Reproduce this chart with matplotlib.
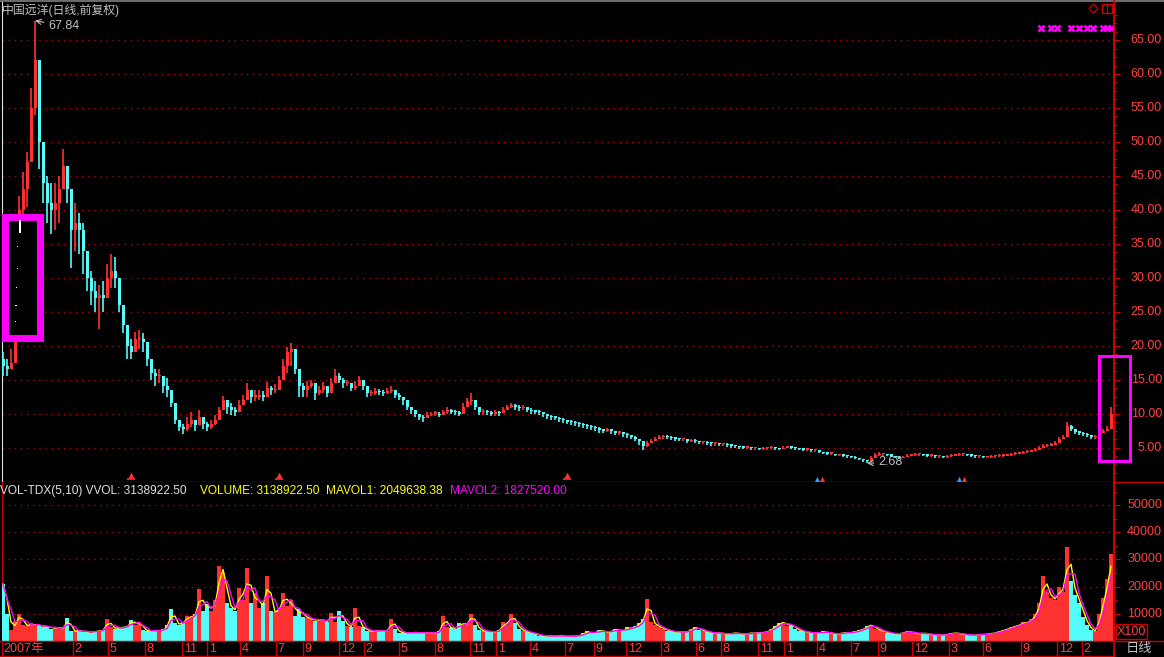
import numpy as np
import pandas as pd
import matplotlib
matplotlib.use('Agg')
import matplotlib.pyplot as plt
from matplotlib.patches import Rectangle, Polygon
from matplotlib.lines import Line2D

plt.rcParams['font.family'] = ['Liberation Sans', 'Noto Sans CJK SC']
plt.rcParams['lines.scale_dashes'] = False

# ---- data (one bar ~ 4 trading days) ----
first_open = 18.0
close = [17.0, 16.5, 17.5, 21.0, 40.0, 43.0, 47.0, 55.0, 62.0, 50.0,
         44.0, 41.0, 40.0, 41.0, 43.0, 46.5, 43.0, 37.0, 38.0, 37.0,
         34.0, 30.0, 28.0, 27.0, 27.5, 27.0, 30.0, 31.0, 30.0, 26.0,
         23.0, 20.0, 19.0, 21.0, 21.0, 20.5, 18.0, 16.0, 15.5, 15.5,
         14.0, 13.5, 11.5, 9.0, 8.0, 7.8, 8.5, 9.0, 8.3, 9.5,
         8.5, 8.0, 8.5, 9.0, 10.5, 12.0, 11.0, 10.5, 10.3, 11.3,
         12.0, 13.5, 12.5, 12.5, 12.8, 12.5, 13.8, 13.5, 13.5, 15.0,
         17.0, 19.0, 19.5, 16.5, 14.0, 13.5, 14.0, 14.5, 13.0, 13.5,
         14.0, 13.0, 14.5, 15.5, 15.0, 14.5, 14.5, 13.8, 14.0, 15.0,
         14.0, 13.0, 13.0, 13.3, 13.2, 13.0, 13.3, 13.5, 12.8, 12.5,
         12.0, 11.0, 10.5, 10.0, 9.5, 9.3, 9.8, 10.0, 10.0, 9.8,
         10.2, 10.5, 10.3, 10.2, 10.0, 11.0, 11.8, 12.0, 11.0, 10.2,
         10.3, 10.2, 10.0, 10.2, 10.1, 10.6, 10.9, 11.2, 11.0, 10.8,
         10.9, 10.6, 10.4, 10.3, 10.2, 9.9, 9.6, 9.5, 9.4, 9.2,
         9.0, 8.8, 8.7, 8.6, 8.4, 8.3, 8.1, 8.0, 7.9, 7.6,
         7.5, 7.7, 7.4, 7.2, 7.3, 7.0, 6.8, 6.6, 6.3, 5.9,
         5.2, 5.6, 6.0, 6.3, 6.5, 6.6, 6.5, 6.4, 6.3, 6.2,
         6.2, 6.0, 6.1, 5.9, 5.8, 5.8, 5.7, 5.6, 5.6, 5.5,
         5.5, 5.4, 5.3, 5.2, 5.1, 5.0, 5.0, 4.9, 4.9, 4.8,
         4.9, 4.9, 5.0, 4.9, 4.8, 5.0, 5.1, 5.0, 4.9, 4.8,
         4.7, 4.7, 4.6, 4.6, 4.4, 4.2, 4.1, 4.1, 3.9, 3.9,
         3.8, 3.7, 3.6, 3.5, 3.3, 3.1, 3.0, 3.5, 3.9, 4.0,
         4.0, 3.9, 3.8, 3.6, 3.5, 3.6, 3.8, 3.9, 4.0, 4.0,
         3.9, 3.8, 3.8, 3.7, 3.7, 3.6, 3.7, 3.8, 3.9, 4.0,
         4.0, 3.9, 3.8, 3.7, 3.7, 3.6, 3.6, 3.7, 3.7, 3.8,
         3.8, 3.9, 4.0, 4.1, 4.2, 4.3, 4.4, 4.5, 4.7, 5.0,
         5.2, 5.3, 5.4, 5.6, 6.2, 6.6, 8.2, 7.7, 7.3, 7.2,
         7.0, 6.8, 6.5, 6.6, 7.2, 7.5, 7.8, 10.0]
high = [19.0, 18.0, 19.5, 22.5, 42.0, 45.6, 48.5, 58.0, 67.84, 60.0,
        49.0, 45.0, 44.0, 44.0, 45.0, 49.0, 46.0, 42.0, 41.0, 39.5,
        38.0, 33.0, 31.0, 29.5, 29.0, 29.5, 32.0, 33.5, 33.0, 28.5,
        25.0, 22.5, 21.0, 22.0, 22.3, 21.8, 19.5, 17.5, 16.5, 16.5,
        15.5, 15.3, 13.0, 10.8, 9.0, 8.5, 9.5, 10.2, 9.0, 10.6,
        9.5, 8.8, 9.0, 9.8, 11.0, 12.6, 12.0, 11.5, 11.0, 12.0,
        12.8, 14.5, 13.5, 13.5, 13.4, 13.3, 14.6, 14.0, 14.3, 15.5,
        18.0, 19.8, 20.4, 19.5, 15.5, 14.5, 14.8, 15.0, 14.0, 14.0,
        14.6, 14.0, 15.2, 16.5, 16.0, 15.3, 15.0, 14.4, 14.8, 15.6,
        15.0, 13.6, 13.5, 13.7, 13.6, 13.5, 13.7, 14.0, 13.5, 13.0,
        12.5, 11.8, 11.0, 10.5, 10.0, 9.8, 10.2, 10.3, 10.4, 10.2,
        10.6, 10.9, 10.7, 10.6, 10.4, 11.5, 12.3, 13.0, 12.0, 10.8,
        10.7, 10.6, 10.4, 10.5, 10.4, 11.0, 11.3, 11.6, 11.4, 11.2,
        11.2, 11.0, 10.8, 10.6, 10.5, 10.3, 10.0, 9.8, 9.7, 9.5,
        9.3, 9.1, 9.0, 8.9, 8.7, 8.6, 8.4, 8.3, 8.2, 8.0,
        7.8, 7.9, 7.7, 7.5, 7.5, 7.3, 7.1, 6.9, 6.7, 6.3,
        5.9, 5.9, 6.3, 6.6, 6.8, 6.9, 6.8, 6.7, 6.6, 6.4,
        6.4, 6.3, 6.3, 6.2, 6.0, 6.0, 5.9, 5.8, 5.8, 5.7,
        5.7, 5.6, 5.5, 5.4, 5.3, 5.2, 5.2, 5.1, 5.1, 5.0,
        5.1, 5.1, 5.2, 5.1, 5.0, 5.2, 5.3, 5.2, 5.1, 5.0,
        4.9, 4.9, 4.8, 4.8, 4.6, 4.4, 4.3, 4.3, 4.1, 4.1,
        4.0, 3.9, 3.8, 3.7, 3.5, 3.3, 3.2, 3.8, 4.2, 4.3,
        4.2, 4.1, 4.0, 3.8, 3.7, 3.8, 4.0, 4.1, 4.2, 4.2,
        4.1, 4.0, 4.0, 3.9, 3.9, 3.8, 3.9, 4.0, 4.1, 4.2,
        4.2, 4.1, 4.0, 3.9, 3.9, 3.8, 3.8, 3.9, 3.9, 4.0,
        4.0, 4.1, 4.2, 4.3, 4.4, 4.5, 4.6, 4.7, 4.9, 5.3,
        5.5, 5.5, 5.6, 5.9, 6.5, 6.9, 8.7, 8.3, 7.7, 7.5,
        7.3, 7.1, 6.8, 6.9, 7.6, 7.8, 8.2, 11.0]
low = [15.5, 15.5, 16.5, 19.0, 36.5, 39.0, 40.4, 49.0, 54.0, 46.0,
       41.0, 38.0, 36.5, 37.0, 38.0, 43.0, 41.0, 31.5, 34.0, 33.5,
       30.5, 28.0, 26.0, 25.0, 22.5, 25.0, 27.5, 28.5, 28.5, 25.0,
       21.8, 18.0, 18.0, 19.5, 19.5, 19.0, 17.0, 15.0, 14.0, 14.5,
       13.0, 12.5, 11.0, 8.5, 7.5, 7.0, 7.5, 8.0, 7.5, 8.5,
       7.8, 7.5, 7.8, 8.3, 9.5, 10.8, 10.0, 9.8, 9.6, 10.2,
       11.2, 12.0, 11.5, 11.8, 12.0, 11.8, 13.0, 12.8, 13.0, 14.0,
       15.5, 16.0, 17.0, 15.8, 12.5, 12.5, 12.5, 13.8, 12.0, 12.8,
       13.0, 12.5, 13.5, 14.6, 14.5, 13.8, 14.0, 13.3, 13.5, 14.2,
       13.4, 12.5, 12.6, 12.8, 12.8, 12.6, 12.9, 13.0, 12.3, 12.0,
       11.2, 10.5, 10.0, 9.5, 9.0, 8.7, 9.4, 9.6, 9.6, 9.5,
       9.8, 10.0, 9.9, 9.8, 9.7, 10.5, 11.0, 11.3, 10.5, 9.8,
       9.8, 9.8, 9.6, 9.7, 9.7, 10.2, 10.5, 10.8, 10.6, 10.4,
       10.5, 10.2, 10.0, 9.9, 9.8, 9.5, 9.2, 9.1, 9.0, 8.8,
       8.6, 8.4, 8.3, 8.2, 8.0, 7.9, 7.7, 7.6, 7.5, 7.2,
       7.1, 7.3, 7.0, 6.8, 6.9, 6.6, 6.4, 6.2, 5.9, 5.4,
       4.7, 5.1, 5.6, 6.0, 6.2, 6.3, 6.2, 6.1, 6.0, 5.9,
       5.9, 5.7, 5.8, 5.6, 5.5, 5.5, 5.4, 5.3, 5.3, 5.2,
       5.2, 5.1, 5.0, 4.9, 4.8, 4.8, 4.8, 4.7, 4.7, 4.6,
       4.7, 4.7, 4.8, 4.7, 4.6, 4.8, 4.9, 4.8, 4.7, 4.6,
       4.5, 4.5, 4.4, 4.4, 4.2, 4.0, 3.9, 3.9, 3.7, 3.7,
       3.6, 3.5, 3.4, 3.3, 3.1, 2.9, 2.68, 3.2, 3.7, 3.8,
       3.8, 3.7, 3.6, 3.4, 3.3, 3.4, 3.6, 3.7, 3.8, 3.8,
       3.7, 3.6, 3.6, 3.5, 3.5, 3.4, 3.5, 3.6, 3.7, 3.8,
       3.8, 3.7, 3.6, 3.5, 3.5, 3.4, 3.4, 3.5, 3.5, 3.6,
       3.6, 3.7, 3.8, 3.9, 4.0, 4.1, 4.2, 4.3, 4.5, 4.8,
       5.0, 5.1, 5.2, 5.4, 5.9, 6.3, 7.6, 7.4, 7.0, 6.9,
       6.7, 6.5, 6.2, 6.3, 7.0, 7.3, 7.6, 9.0]
volume = [21000, 10000, 4000, 7400, 10000, 6000, 5500, 6500, 5500, 6000,
          5000, 5500, 4500, 5200, 4500, 5000, 8500, 3800, 3500, 4000,
          3200, 3600, 3000, 3800, 3500, 4200, 8000, 5000, 4500, 5200,
          4800, 5500, 7800, 6000, 7000, 4000, 3800, 3500, 4200, 3300,
          4500, 6000, 11800, 6500, 6000, 7000, 9300, 8500, 10000, 19000,
          11000, 13700, 11000, 15000, 27700, 25000, 14000, 12000, 11000, 19600,
          15000, 27000, 14000, 17800, 12000, 14000, 24000, 11000, 10500, 12000,
          17800, 13000, 15000, 9300, 11800, 9000, 8500, 8000, 7500, 8100,
          7400, 7000, 10400, 7000, 11000, 7500, 5500, 5000, 12000, 5500,
          5000, 3700, 3500, 4000, 3500, 3800, 3500, 8000, 4500, 3000,
          3200, 2800, 3000, 3300, 2800, 3000, 3200, 2800, 3000, 3500,
          9300, 5000, 4800, 4500, 6600, 6000, 6500, 10000, 6000, 4000,
          3500, 3700, 3200, 3500, 4000, 7000, 6000, 10000, 6500, 4500,
          3700, 3200, 3000, 2500, 2000, 1800, 2000, 1700, 1800, 2000,
          1800, 1600, 1900, 1700, 2000, 3000, 3500, 2800, 3200, 4000,
          3500, 3000, 3800, 4500, 3500, 4000, 5000, 4500, 5500, 6500,
          8000, 15500, 7000, 6000, 5000, 4500, 3800, 3500, 3200, 3500,
          3000, 3500, 4500, 5000, 4200, 3800, 3200, 3000, 2800, 3000,
          2600, 2500, 2800, 3000, 2600, 2400, 2800, 3000, 2700, 3200,
          3000, 3500, 4500, 5500, 6500, 7000, 5500, 6000, 4500, 3800,
          3500, 3000, 3200, 2800, 3000, 3500, 3000, 2800, 2500, 2800,
          3000, 3200, 3000, 3500, 4000, 4500, 5500, 6000, 4500, 4000,
          3500, 3000, 2800, 2500, 2800, 3000, 3500, 3200, 2800, 2600,
          3000, 2500, 2200, 2400, 2000, 2200, 2500, 2800, 3000, 2600,
          2400, 2200, 2000, 2200, 2500, 2300, 2600, 2800, 3000, 3500,
          4000, 4500, 5000, 5500, 6000, 7000, 6500, 8000, 10000, 14000,
          24000, 18000, 16000, 15000, 20000, 18000, 34500, 22000, 17000, 14000,
          9000, 6000, 4000, 3500, 10000, 16000, 23000, 32000]

price_ticks = [5, 10, 15, 20, 25, 30, 35, 40, 45, 50, 55, 60, 65]
vol_ticks = [10000, 20000, 30000, 40000, 50000]
month_labels = ['2007年', '2', '5', '8', '11', '1', '4', '7', '9', '12', '2', '5', '8', '11',
                '1', '4', '7', '9', '12', '3', '6', '8', '11', '1', '4', '7', '9', '12',
                '3', '6', '9', '12', '2']
month_bars = [-0.25, 17.5, 26.25, 35.5, 44.75, 51, 59.25, 68.25, 75, 84, 90.25, 99, 108,
              116.75, 123.25, 131.75, 140.5, 147.75, 155.75, 164.5, 173.25, 179.5, 188.75,
              195.25, 203.5, 212, 218.75, 227.25, 236.5, 245, 254.5, 263.5, 269.75]
event_bars = [32, 69, 141]
flag_bars = [203.5, 239]
signal_bars = [259.5, 262, 263.5, 267, 269, 271, 272.5, 275, 276, 277]
peak_bar, low_bar = 8, 216

# ---- style ----
W, H = 1164, 657
UP = '#ff3232'
DN = '#54fcfc'
AXC = '#c80000'
GRID = '#b00000'
LAB = '#ff4040'
TXT = '#c0c0c0'
MAG = '#ff00ff'


def fx(px):
    return px / W


def fy(py):
    return 1 - py / H


close = np.array(close)
opens = np.array([first_open] + list(close[:-1]))
idx = np.arange(len(close))
cols = [UP if c >= o else DN for c, o in zip(close, opens)]

fig = plt.figure(figsize=(W / 100, H / 100), dpi=100, facecolor='black')
ax_p = fig.add_axes([fx(2), fy(481.5), (1114 - 2) / W, (481.5 - 2) / H], facecolor='black')
ax_v = fig.add_axes([fx(2), fy(641), (1114 - 2) / W, (641 - 481.5) / H], facecolor='black')
ax_s = fig.add_axes([fx(2), fy(656), (1114 - 2) / W, (656 - 641) / H], facecolor='black')

for ax in (ax_p, ax_v, ax_s):
    ax.set_xlim(-0.25, 277.75)
    ax.set_xticks([])

# price panel
ax_p.set_ylim(0, 70.6)
ax_p.vlines(idx, low, high, colors=cols, linewidth=1.2, zorder=3)
body_lo = np.minimum(opens, close)
body_h = np.maximum(np.abs(close - opens), 0.18)
ax_p.bar(idx, body_h, bottom=body_lo, width=0.75, color=cols, linewidth=0, zorder=3)
ax_p.set_yticks(price_ticks)
ax_p.yaxis.tick_right()
ax_p.set_yticks(np.arange(1.25, 70, 1.25), minor=True)
ax_p.tick_params(axis='y', which='major', length=4, width=0.8, color=AXC, labelright=False)
ax_p.tick_params(axis='y', which='minor', length=2, width=0.8, color=AXC)
ax_p.grid(axis='y', which='major', color=GRID, linestyle=(0, (1, 3.4)), linewidth=1.0)
for v in price_ticks:
    ax_p.text(1.0432, v, f'{v:.2f}', transform=ax_p.get_yaxis_transform(), ha='right',
              va='center', color=LAB, fontsize=9, clip_on=False)
ax_p.spines['top'].set_visible(False)
ax_p.spines['left'].set_color('#e0e0e0')
ax_p.spines['left'].set_linewidth(0.8)
ax_p.spines['right'].set_color(AXC)
ax_p.spines['right'].set_linewidth(1.3)
ax_p.spines['bottom'].set_color(AXC)
ax_p.spines['bottom'].set_linewidth(1.0)

ax_p.annotate(f'{high[peak_bar]:.2f}', xy=(peak_bar, high[peak_bar]), xytext=(13, -5),
              textcoords='offset pixels', color=TXT, fontsize=9, va='center',
              arrowprops=dict(arrowstyle='->', color=TXT, lw=0.8, shrinkA=1, shrinkB=0))
ax_p.annotate(f'{low[low_bar]:.2f}', xy=(low_bar, low[low_bar]), xytext=(11, 1),
              textcoords='offset pixels', color=TXT, fontsize=9, va='center',
              arrowprops=dict(arrowstyle='->', color=TXT, lw=0.8, shrinkA=1, shrinkB=0))

ax_p.scatter(event_bars, [1.0] * len(event_bars), marker='^', s=18, color=UP,
             linewidths=0, clip_on=False, zorder=5)
ax_p.scatter(event_bars, [0.35] * len(event_bars), marker='_', s=30, color=UP,
             linewidths=1.2, clip_on=False, zorder=5)
ax_p.scatter(flag_bars, [0.4] * len(flag_bars), marker='^', s=14, color='#3399ff',
             linewidths=0, clip_on=False, zorder=5)
ax_p.scatter([b + 1.3 for b in flag_bars], [0.4] * len(flag_bars), marker='^', s=14,
             color=UP, linewidths=0, clip_on=False, zorder=5)
ax_p.scatter(signal_bars, [66.7] * len(signal_bars), marker='x', s=18, color=MAG,
             linewidths=1.8, zorder=5)

# volume panel (TDX-style short/long averages of the bars shown)
ma_fast = pd.Series(volume).rolling(2, min_periods=1).mean()
ma_slow = pd.Series(volume).rolling(3, min_periods=1).mean()
ax_v.set_ylim(0, 58700)
ax_v.bar(idx, volume, width=0.9, color=cols, linewidth=0, zorder=3)
ax_v.plot(idx, ma_fast, color='#ffff00', linewidth=1.0, zorder=4)
ax_v.plot(idx, ma_slow, color=MAG, linewidth=1.0, zorder=4)
ax_v.set_yticks(vol_ticks)
ax_v.yaxis.tick_right()
ax_v.set_yticks(np.arange(5000, 58000, 5000), minor=True)
ax_v.tick_params(axis='y', which='major', length=4, width=0.8, color=AXC, labelright=False)
ax_v.tick_params(axis='y', which='minor', length=2, width=0.8, color=AXC)
ax_v.grid(axis='y', which='major', color=GRID, linestyle=(0, (1, 3.4)), linewidth=1.0)
for v in vol_ticks:
    ax_v.text(1.0432, v, f'{v}', transform=ax_v.get_yaxis_transform(), ha='right',
              va='center', color=LAB, fontsize=9, clip_on=False)
ax_v.spines['top'].set_visible(False)
for s in ('left', 'right', 'bottom'):
    ax_v.spines[s].set_color(AXC)
ax_v.spines['right'].set_linewidth(1.3)

# date strip
ax_s.set_ylim(0, 1)
ax_s.set_yticks([])
for s in ax_s.spines.values():
    s.set_visible(False)
for b, lab in zip(month_bars, month_labels):
    ax_s.axvline(b, color=AXC, linewidth=1.0)
    ax_s.text(b + 0.45, 0.45, lab, color=LAB, fontsize=9, va='center', ha='left')

# header texts
fig.text(fx(2), fy(10), '中国远洋(日线,前复权)', color=TXT, fontsize=8.6, va='center')
fig.text(fx(0), fy(491), 'VOL-TDX(5,10) VVOL: 3138922.50', color='#e0e0e0', fontsize=8.6, va='center')
fig.text(fx(200), fy(491), 'VOLUME: 3138922.50', color='#ffff00', fontsize=8.6, va='center')
fig.text(fx(326), fy(491), 'MAVOL1: 2049638.38', color='#ffff00', fontsize=8.6, va='center')
fig.text(fx(450), fy(491), 'MAVOL2: 1827520.00', color=MAG, fontsize=8.6, va='center')
fig.text(fx(1139), fy(649), '日线', color=TXT, fontsize=9.5, va='center', ha='center')
fig.text(fx(1131.5), fy(632), 'X100', color=LAB, fontsize=9, va='center', ha='center')


# frame lines
def hline(y, x0, x1, color, lw):
    fig.add_artist(Line2D([fx(x0), fx(x1)], [fy(y), fy(y)], color=color, linewidth=lw,
                          transform=fig.transFigure))


def vline(x, y0, y1, color, lw):
    fig.add_artist(Line2D([fx(x), fx(x)], [fy(y0), fy(y1)], color=color, linewidth=lw,
                          transform=fig.transFigure))


hline(0.8, 0, 1164, '#808080', 1.2)
hline(481.5, 1114, 1164, AXC, 1.0)
hline(641, 0, 1164, AXC, 1.0)
hline(655.5, 0, 1114, AXC, 1.0)
vline(1114, 0, 657, AXC, 1.3)
fig.add_artist(Rectangle((fx(1116), fy(639)), 31 / W, 15 / H, transform=fig.transFigure,
                         fill=False, edgecolor=AXC, linewidth=1.0))

# top-right icons
fig.add_artist(Polygon([[fx(1093.5), fy(4)], [fx(1098), fy(8.5)], [fx(1093.5), fy(13)], [fx(1089), fy(8.5)]],
                       closed=True, fill=False, edgecolor=AXC, linewidth=0.9, transform=fig.transFigure))
fig.add_artist(Rectangle((fx(1102), fy(13)), 10 / W, 9 / H, transform=fig.transFigure,
                         fill=False, edgecolor=AXC, linewidth=1.0))
vline(1107, 4, 13, AXC, 0.9)

# highlight boxes
fig.add_artist(Rectangle((fx(4.5), fy(337.5)), 35 / W, 121 / H, transform=fig.transFigure,
                         facecolor='black', edgecolor=MAG, linewidth=5, zorder=10))
for px, py in [(17.3, 246.7), (17.3, 268.3), (16.3, 287.3), (16, 305.3), (15.3, 321.3)]:
    fig.add_artist(Rectangle((fx(px - 0.7), fy(py + 0.7)), 1.5 / W, 1.5 / H, transform=fig.transFigure,
                             facecolor='white', edgecolor='none', zorder=11))
fig.add_artist(Rectangle((fx(18.5), fy(233)), 2 / W, 13 / H, transform=fig.transFigure,
                         facecolor='white', edgecolor='none', zorder=11))
fig.add_artist(Rectangle((fx(1098.5), fy(460.5)), 31 / W, 105 / H, transform=fig.transFigure,
                         fill=False, edgecolor=MAG, linewidth=2.2, zorder=10))

fig.savefig('out.png', dpi=100, facecolor='black')
